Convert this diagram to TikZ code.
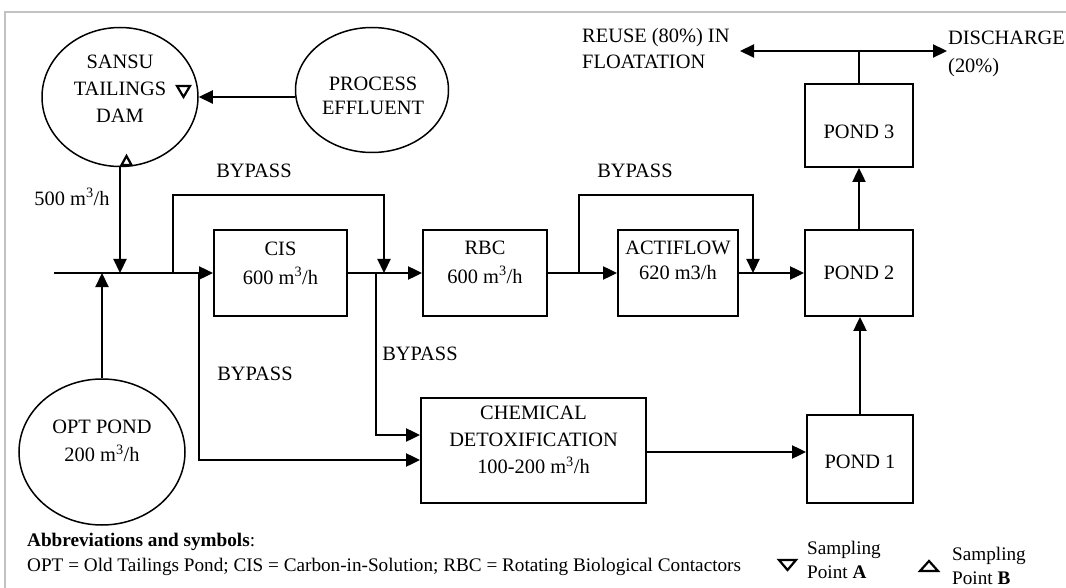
\documentclass[tikz,border=0pt]{standalone}
\usepackage{fontspec}
\setmainfont{Liberation Serif}
\usetikzlibrary{shapes.geometric,arrows.meta,calc}
\begin{document}
\begin{tikzpicture}[x=1pt,y=-1pt,
  box/.style={draw, line width=1.9pt, inner sep=0pt, align=center, font=\fontsize{20.4}{27}\selectfont},
  oval/.style={ellipse, draw, line width=1.5pt, inner sep=0pt},
  flow/.style={line width=2.2pt, -{Triangle[length=14pt,width=13pt]}},
  pipe/.style={line width=2.2pt},
  lbl/.style={inner sep=0pt, align=center, font=\fontsize{20.4}{27}\selectfont},
  smp/.style={line width=2.2pt, line join=miter},
  legend/.style={inner sep=0pt, align=left, anchor=west, font=\fontsize{19.2}{24}\selectfont},
]
\useasboundingbox (0,0) rectangle (1066,588);
\draw[black!24, line width=2pt] (1066,12) -- (5,12) -- (5,588);

% ovals
\node[oval, minimum width=156pt, minimum height=139pt] (sansu) at (120,97) {};
\node[lbl, font=\fontsize{20.4}{27}\selectfont] (sansut) at (120,89) {SANSU\\TAILINGS\\DAM};
\node[oval, minimum width=153pt, minimum height=125pt] (proc) at (372,90) {};
\node[lbl, font=\fontsize{20.4}{24}\selectfont] (proct) at (373,96) {PROCESS\\EFFLUENT};
\node[oval, minimum width=166pt, minimum height=146pt] (opt) at (102,452) {};
\node[lbl, font=\fontsize{20.4}{28}\selectfont] (optt) at (102,441) {OPT POND\\200 m\textsuperscript{3}/h};

% boxes
\node[box, minimum width=133pt, minimum height=86pt] (cis) at (280.5,273) {};
\node[lbl, font=\fontsize{20.4}{29}\selectfont] (cist) at (280.5,263) {CIS\\600 m\textsuperscript{3}/h};
\node[box, minimum width=124pt, minimum height=86pt] (rbc) at (485,273) {};
\node[lbl, font=\fontsize{20.4}{29}\selectfont] (rbct) at (485,262) {RBC\\600 m\textsuperscript{3}/h};
\node[box, minimum width=120pt, minimum height=86pt] (act) at (678,273) {};
\node[lbl, font=\fontsize{20.4}{25}\selectfont] (actt) at (678,260) {ACTIFLOW\\620 m3/h};
\node[box, minimum width=108pt, minimum height=86pt] (pond2) at (859,273) {POND 2};
\node[box, minimum width=108pt, minimum height=83pt] (pond3) at (859,125.5) {};
\node[lbl] (pond3t) at (859,132) {POND 3};
\node[box, minimum width=106pt, minimum height=88pt] (pond1) at (860,459) {};
\node[lbl] (pond1t) at (860,462) {POND 1};
\node[box, minimum width=225pt, minimum height=105pt] (chem) at (533.5,450.5) {};
\node[lbl, font=\fontsize{20.4}{27}\selectfont] (chemt) at (533.5,440) {CHEMICAL\\DETOXIFICATION\\100-200 m\textsuperscript{3}/h};

% coordinates
\coordinate (m0) at (54,273);
\coordinate (b1a) at (173,273);
\coordinate (b1b) at (384,195);
\coordinate (b1c) at (384,273);
\coordinate (b2a) at (579,273);
\coordinate (b2b) at (753,195);
\coordinate (b2c) at (753,273);
\coordinate (b3a) at (199,273);
\coordinate (b4a) at (376,273);
\coordinate (top) at (859,51);
\coordinate (reuse) at (740,51);
\coordinate (dis) at (947,51);

% connectors
\draw[flow] (m0) -- (cis.west);
\draw[flow] (opt.north) -- (opt.north |- m0);
\draw[flow] (sansu.south) -- (sansu.south |- m0);
\draw[flow] (proc.west |- sansu.east) -- (sansu.east);
\draw[flow] (b1a) |- (b1b) -- (b1c);
\draw[flow] (cis.east) -- (rbc.west);
\draw[flow] (rbc.east) -- (act.west);
\draw[flow] (b2a) |- (b2b) -- (b2c);
\draw[flow] (act.east) -- (pond2.west);
\draw[flow] (b3a) |- ([yshift=-9.5pt]chem.west);
\draw[flow] (b4a) |- ([yshift=15.5pt]chem.west);
\draw[flow] ([yshift=-1.5pt]chem.east) -- ([yshift=-1.5pt]chem.east -| pond1.west);
\draw[flow] (pond1.north) -- (pond1.north |- pond2.south);
\draw[flow] (pond2.north) -- (pond3.south);
\draw[pipe] (pond3.north) -- (top);
\draw[flow] (top) -- (reuse);
\draw[flow] (top) -- (dis);

% sampling points
\draw[smp] (177,86) -- (190,86) -- (183.5,97) -- cycle;
\draw[smp] (121.5,165) -- (131.5,165) -- (126.5,156) -- cycle;

% labels
\node[lbl] (bp1) at (254,171) {BYPASS};
\node[lbl] (bp2) at (635,171) {BYPASS};
\node[lbl] (bp3) at (420,354) {BYPASS};
\node[lbl] (bp4) at (255,374) {BYPASS};
\node[lbl] (q500) at (72,197) {500 m\textsuperscript{3}/h};
\node[lbl, anchor=west, align=left, font=\fontsize{20.4}{26}\selectfont] (reuset) at (582,49) {REUSE (80\%) IN\\FLOATATION};
\node[lbl, anchor=west, align=left, font=\fontsize{20.4}{28}\selectfont] (dist) at (948,54) {DISCHARGE\\(20\%)};

% legend
\node[legend] (abbr) at (27,542) {\textbf{Abbreviations and symbols}:};
\node[legend] (abbr2) at (27,567) {OPT = Old Tailings Pond; CIS = Carbon-in-Solution; RBC = Rotating Biological Contactors};
\draw[smp] (779,560) -- (796,560) -- (787.5,570) -- cycle;
\node[legend] (sa) at (807,560) {Sampling\\Point \textbf{A}};
\draw[smp] (920,571) -- (938,571) -- (929,561) -- cycle;
\node[legend] (sb) at (952,566) {Sampling\\Point \textbf{B}};
\end{tikzpicture}
\end{document}
